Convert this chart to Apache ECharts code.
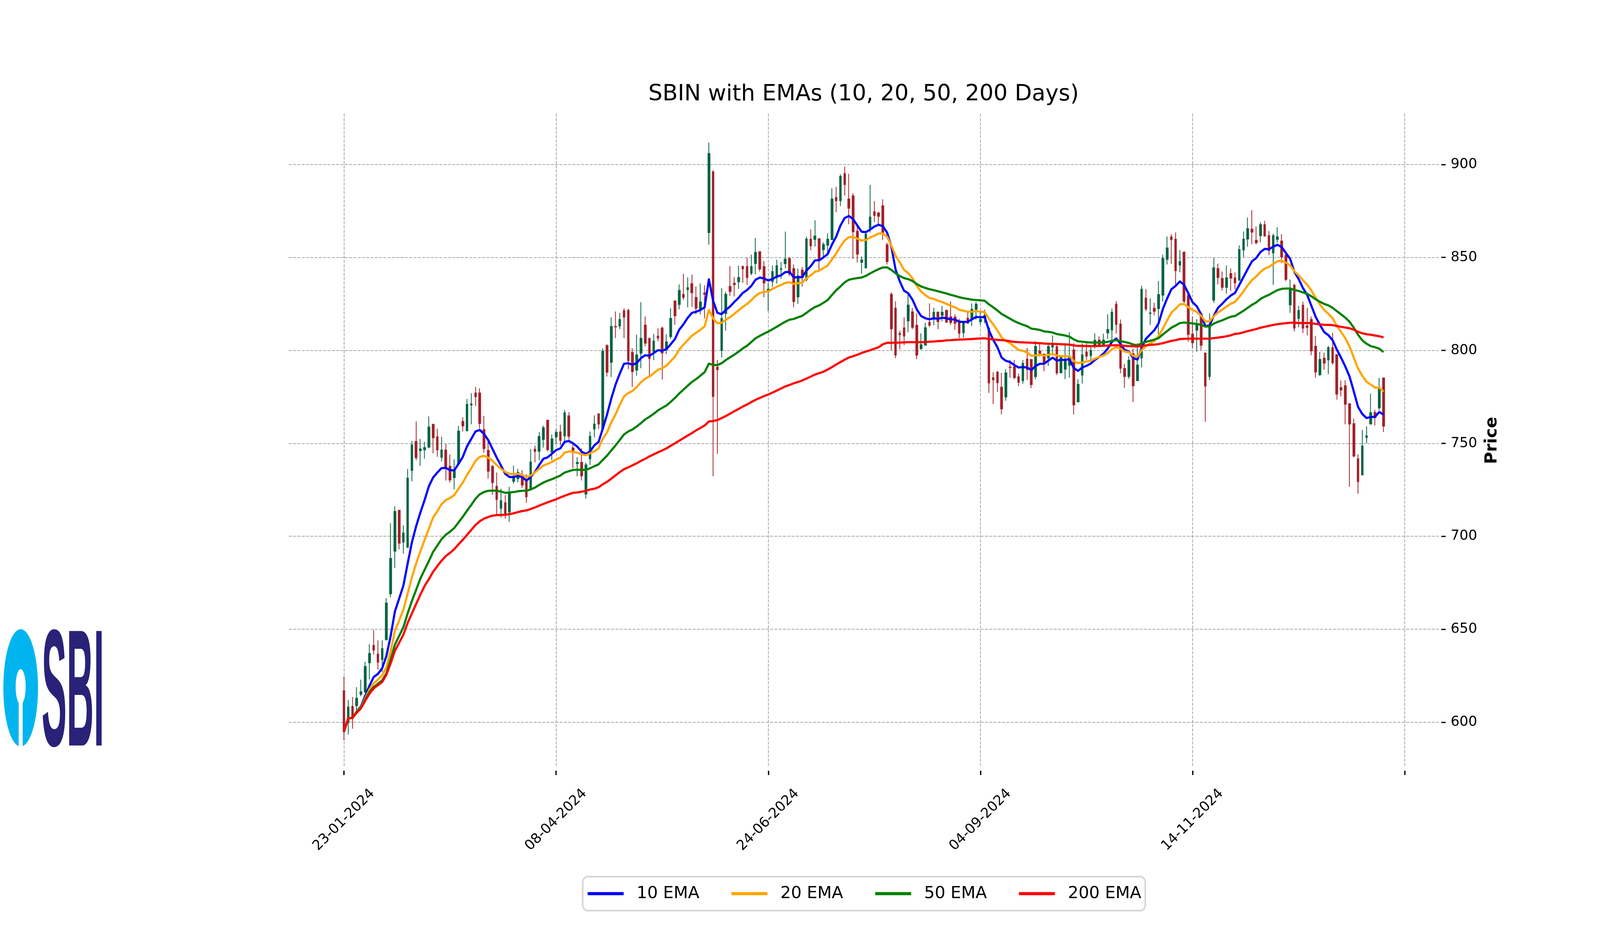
<!DOCTYPE html>
<html>
<head>
<meta charset="utf-8">
<title>SBIN with EMAs</title>
<script src="https://cdn.jsdelivr.net/npm/echarts@6/dist/echarts.min.js"></script>
<style>
html, body { margin: 0; padding: 0; background: #fff; overflow: hidden; }
#chart { width: 100vw; height: 100vh; }
</style>
</head>
<body>
<div id="chart"></div>
<script>
// values, one entry per trading day
var openPrices = [
616.9,600,608.5,608.9,615,616.2,632,641.3,636.6,633.7,
644.4,669.1,692,714,696.9,694,735.4,751,746.1,746.5,
748,760.3,753.5,742.5,746.4,737.6,731.6,739,761.8,756.8,
770.7,777.1,777.1,757.4,746.2,737.6,726.9,715.1,718,713.1,
729.6,731,732.3,730.3,725.6,746.8,745.7,752.1,762.5,745.3,
753.5,756.1,754,764.8,747.5,739.1,739.8,722.7,741.7,757.7,
765.9,758,802.6,793.6,812.9,813.1,821.3,821.5,798.9,789.4,
798.5,813.6,806.5,799.5,807.7,812,800.4,807.4,826.6,824.7,
830.2,832.7,835.9,828.5,821.8,830.9,863.4,896,791,800,
819.9,834.4,836.1,836.9,845.1,845.1,841.5,846.8,853.1,845.1,
832,837,839.2,843.6,846.7,849.4,844,828.8,843.2,838,
859.8,859.7,860.1,854.2,856.6,859.6,882.2,880.5,895.1,881.4,
883.1,864.1,847.4,844.4,865.8,874.6,873.9,877.8,856.8,830.1,
822.7,809.1,812.1,815.9,820.7,813.5,800.9,802.8,815.1,816.7,
820.5,818.9,821.5,818.1,817.9,816,809.5,817.3,817,822.1,
815.4,817.3,812,785.3,788.3,780.2,775,791,791.1,785.8,
783.7,795.3,795.1,785.9,799.6,798,795.9,801.8,802,787.9,
789.9,792,800.2,772.3,786.7,799.1,797.2,802.6,805.5,803,
809.4,811,824.8,814.2,790.3,786,798.2,783.7,795.9,828.1,
819.9,822.6,822.5,829.7,849,861.1,859.8,845.9,852.7,829.5,
808.8,810.9,819.5,798.6,786,827,844,838.7,833.9,841.3,
839,837.9,854,859.9,865.2,859.2,861.7,867.6,861.7,852.4,
859.7,858.8,851.3,824.5,835,817.2,824.3,813.1,816.6,802.2,
786.9,795.8,794.9,801.5,797.7,780,781,771.3,760.6,741.7,
733,753.2,760.4,766.6,769.1,785.2
];
var closePrices = [
594.8,608.2,602.1,612.9,616.4,630,637,638.8,632.3,639.6,
664.1,688.1,713.4,696.3,701.8,731.3,749.2,742.3,747,747.7,
758.8,753,746.5,746.4,737.2,730.3,735.6,756.6,759.4,771,
771.2,775.1,760.7,747.2,735,728.9,719.8,719.1,711.8,723.6,
732,734.3,727.6,721.3,740,745.7,753.7,758.4,746.6,752.4,
755.9,751.6,766.4,753.8,746.2,739.7,732.5,738.4,753.8,760.4,
760.4,799.5,788.3,812.9,812.6,816.6,817.9,794.5,788.6,797.6,
806.5,803.9,795.6,805,806.7,798.6,804.6,817.2,818.6,832.3,
828.5,833.7,831,822.7,826,830.2,905.9,775.2,789.6,817.2,
830.2,831.7,835.4,839.2,843.9,839.2,845.1,852.7,843.8,836.3,
832.9,842.4,845.5,843.9,849.1,841.3,826.3,840,839.3,859.9,
856.3,861.5,848.3,856.9,859.8,881.4,880.5,893.6,889.2,876.5,
863.8,851.8,848.6,862.5,871.7,872.6,872.1,863.4,847.8,811.6,
797.5,808.5,807.8,824.4,812.4,797.5,803,812.2,813.5,820.5,
815.5,820.5,815.3,815,814.6,809.2,815.3,814.6,822.1,824.8,
816.7,818.8,782.5,784.2,782.6,768.6,787.9,790.8,785.4,782.9,
793,789.7,781.6,802.1,798.2,793.5,802.1,803,787.9,796.9,
794.5,796.9,770.7,781.7,797.6,796.9,799.9,805.4,802.6,805.5,
811.2,820.5,814,790.4,786,794.7,781,792.1,832.9,822.3,
820.2,821.1,830,849.4,855.1,859.6,842.9,847.8,826.5,808.6,
804.1,813.8,802.8,780.8,813,844.4,839.2,833.9,839,838.9,
836.3,854.2,859.8,865.5,863.6,857.9,867.6,861.5,853.7,861.7,
861.1,850.3,838.2,833.1,812,821.5,812,812.4,799.8,788.4,
795.1,793.2,801.5,793.4,776.5,778.7,771.1,760.4,743.2,729.5,
748.5,754,766.5,763.9,779.3,759.3
];
var highPrices = [
624.6,612,613.6,618.9,622.9,632.5,642,649.6,644,644,
666.7,707,716.2,714,706,736.2,751.3,761.8,752.4,750.8,
764.5,760.3,757.8,753.6,749.6,744,741.4,759.4,764,773.9,
777,780.4,779.6,764.8,751,738.3,734.3,725.6,722.1,726.6,
738,736.3,735.6,733.4,747,748.8,756,759.6,762.5,754.8,
757.5,760,767.9,766.8,750,742.6,747.3,739.6,756.4,765,
765.9,801.1,803.3,817.8,821,820.2,822.6,822.4,801.2,808.4,
825.9,818.3,806.5,808.9,811.9,812.7,808.7,822.6,826.6,835.5,
841.2,839.3,840.8,834.4,836,835,911.8,897,794.9,833.5,
831.5,845.4,839.5,845.6,845.7,849.7,851.5,860.5,853.1,848.1,
836.3,845.7,848.8,847.5,863.9,850.2,846.2,844,844.9,861.2,
865,870,860.1,858.2,863,887.2,888,894.7,898.9,895,
884.5,866.6,850.5,863.1,889,880.3,874.6,881.3,858,831.2,
826.4,810.6,817.8,830,822.8,819.9,809.2,814.9,825.3,823,
821,823.9,822,826.4,819.4,817,816,820.7,825.3,826,
821,821.9,812,788.3,788.9,787.9,789.9,794.9,794.9,787.5,
794.8,801.4,795.1,805,803.8,798.2,803,808,803,797.3,
803.9,809.8,803.9,784.5,803.8,803.8,801.8,809.2,807.6,809,
819.5,822.5,826.5,816.6,792.7,796.9,801,803.9,834.8,833,
827.9,825.6,837.3,851.5,861.3,862.5,863.4,854,853.4,831.8,
818.1,816.8,819.9,798.6,819.9,849.6,846.6,842.4,845.7,844.1,
842,856.5,864,871.5,875.5,866.7,868.9,869.7,864.2,862.8,
866.3,862.6,851.3,838.1,835.9,824,826.2,822.9,818.3,807.9,
799.2,798.8,802.4,809.5,797.7,783.8,784,771.3,763.4,744.1,
757.2,759.1,776.7,768.1,785.2,785.2
];
var lowPrices = [
590.3,593.4,596.5,606.2,614,616,623,636.4,628.3,627,
644,667.2,682.9,693,690.7,693.8,729.6,740.9,737.9,741.7,
747.3,744.6,742.7,740.3,730,728.9,725.2,739,756.4,756.4,
760.2,770.1,758,745,731,722.2,711.5,710.1,709.5,707.9,
728.3,729,726,718,725,739.7,741,747.7,745.7,741,
749.5,749,751,752,736.6,732.3,730,720.3,738.4,753.2,
757.8,757.5,785.9,785.7,806.6,811.4,806.6,789.9,780.3,786.4,
790.4,802.2,786.4,794.7,804.9,784.3,798,806.3,813.8,822.1,
827.2,823.2,823.4,819.4,819.4,817.2,856.9,732.3,744.3,796.1,
810.6,829.3,829,833.1,836.3,835.2,840.4,841,842.5,828.6,
821.1,834.2,836,838.5,844.2,840,823.2,825,834.4,837.2,
853.8,855.9,843.2,849.4,852.6,859.6,874.3,877.6,883.2,867.9,
849.2,847.3,841.2,844,863.4,869,868,859.4,846.2,800.1,
795.8,800.6,802.8,809.8,811.4,795.3,800.4,802.8,812.6,813.5,
811.4,815.7,814.6,813.8,811.1,806.5,806.9,814.3,813,816.5,
813.7,814.6,777.1,771.1,777.6,765.6,772.9,785.3,784.5,780.7,
782.1,784.1,779.7,784.5,796.7,788.7,791.7,798.6,786.7,787.9,
784.5,785.3,765.6,772.3,782.2,794.9,794.9,801,801.8,802,
806.2,805.4,809,787.7,779.9,784.7,772.2,783.7,790.8,821.1,
813.7,818.9,808.6,826.3,846.2,846.6,835.1,842,825.5,804.7,
801.1,799.4,800.2,761.6,784.1,825.6,835.5,832.2,830.5,832,
832.9,837.2,850.2,855.8,857.1,857.1,858.1,861.2,851.2,835.2,
857.9,847,837.2,820.2,810.2,812.4,809.3,808.1,797.4,785.3,
786.3,789.6,787.2,792.3,773.5,775.2,760.2,726.6,742.4,722.9,
733,750,760.4,759.6,767.9,756.1
];
var ema10 = [
595,602.1,602.4,605.8,608.6,614.2,619.6,624.3,626,629,
635.7,646.4,659.6,666.5,673.5,685.3,696.7,705.4,712.8,719.5,
726.9,731.6,734.3,736.7,736.8,735.5,735.5,739,742.7,748.4,
752.4,756.4,757.2,755.1,751.7,747,742.3,738.1,733.6,731.9,
731.9,732.5,731.9,729.9,731.9,734.6,738.3,741.7,742.5,744.4,
746.4,747.3,750.8,751.3,750,748.2,745.5,744.3,745.7,748.9,
750.8,758,765.5,774.1,781.6,787.5,792.8,793.1,792.3,793.2,
795.9,797.4,797.1,798.6,800.1,799.8,800.7,803.3,806.1,811.1,
814,817.5,820.2,820.8,821.7,823.2,838.2,826.6,820.2,819.5,
821.8,823.6,826.1,828.3,830.9,832.5,834.7,838,839.2,838.7,
837.6,838.4,839.7,840.4,842.1,842.2,839.3,839.3,839.4,842.9,
845.3,848.4,848.5,850,851.8,856.9,861.2,867.1,871.2,872.3,
870.6,867.1,863.8,863.6,865,866.6,867.6,866.8,863.4,855.9,
843.5,837.1,832.1,830.7,827.2,822.1,818.5,817.3,816.7,817.3,
817,817.6,817.3,816.7,816.6,815.4,815.3,815.4,816.7,818,
817.8,818,810.8,805.7,801.7,796.1,794.4,793.7,792.1,790.8,
791,790.8,789.4,791.6,792.8,792.8,794.5,796.1,794.5,794.9,
794.9,795.3,790.5,789,790.8,791.7,792.9,794.9,796.5,798.2,
801,804.6,806.4,803.6,800.2,799.4,795.9,795.1,801.4,806.2,
808.6,810.9,814.6,822.3,827.9,832.9,834.7,837.1,835.3,830.7,
825.9,823.7,819.5,813,813.4,818.7,822.9,825.1,827.5,829.5,
830.9,835.2,839.5,843.8,847.9,849.7,852.9,854.6,854.4,855.8,
856.8,855.6,852.4,849.2,842.2,838.4,833.6,829.9,824,818.1,
813.8,809.9,808.2,805.5,800.4,796.1,791.3,785.9,777.9,769.6,
765.8,763.6,764.2,764.2,766.9,765.5
];
var ema20 = [
595,602.1,602.4,605.8,608.2,612.9,617.6,620.9,622.9,625.2,
629.6,638.4,649.1,654.7,660.5,669.2,677.9,685.3,692,698,
704.1,710.1,713.5,717.3,719.5,720.6,722.2,725.6,728.9,733,
736.6,740.6,742.7,743.3,742.3,740.7,738.3,736.3,734.6,733.6,
733.5,733.6,733,731.9,732.7,734.3,736.3,738.1,739,740,
741.3,742.3,745,745.7,745.4,745,744.1,743.6,744.6,745.7,
747.3,752.5,755.9,761.3,765.5,770.7,775.2,777.1,778.2,780.3,
782.9,784.8,785.9,787.7,789.6,790.4,791.8,794.2,796.6,800.4,
803.1,805.5,807.9,809.5,811.1,812.9,821.7,817.2,814.6,814.9,
816.5,817.9,819.7,821.5,823.4,825,827,829.3,830.9,831.5,
831.7,833.1,834.2,835.2,836.3,836.7,835.7,836.1,836.5,838.7,
840.4,842.3,842.9,844.3,845.7,848.9,852.1,855.9,859.1,860.9,
861.1,860.1,859.1,859.4,860.7,861.7,862.9,862.9,861.2,856.4,
851,847.3,843.3,841.6,838.7,834.7,831.7,829.8,828.2,827.7,
826.7,826,825,824,823.2,821.9,821.3,820.8,820.8,821.2,
820.8,820.6,817,814,810.8,806.9,805.1,803.9,802,800.3,
799.8,798.8,797.1,797.3,797.7,797.2,797.6,798.1,797.3,796.9,
796.8,796.8,794.3,793.1,793.6,794,794.5,795.6,796.5,797.2,
798.6,800.6,801.8,800.8,799.4,799,797.1,796.7,800.2,802.2,
803.8,805,807.8,811.8,816.2,820.3,822.4,824.8,824.9,823.2,
821.8,820.7,818.7,815.6,815.6,818.4,820.4,821.9,823.5,825.1,
826.1,828.8,831.7,835,837.8,839.7,842.2,844,844.9,846.5,
848,848.2,847.2,845.7,842.5,840.3,837.8,835.4,832.2,828.3,
824.8,821.8,819.7,817.3,813.2,810,806.6,802,796.1,790.2,
786.4,783.1,781.6,780,780,777.8
];
var ema50 = [
595,602,602.4,605.6,607.9,612.2,616.2,618.9,620.7,622.5,
626.3,633.7,641.7,646.4,651.1,658.5,665.2,671.2,677.3,682,
686.7,691.6,695,698.5,700.8,702.5,704.5,707.5,710.5,713.8,
716.9,720.2,722.6,723.8,724.5,724.6,724.5,724.1,723.4,723.6,
723.8,724.2,724.5,724.5,725.2,726.2,727.6,728.9,729.9,730.7,
731.7,732.7,734.3,735,735.7,735.8,735.8,735.7,736.6,737.7,
738.7,741.1,743.4,746.2,748.9,751.8,754.8,756.4,757.5,759.1,
760.9,762.9,764.3,765.9,767.7,769.1,770.4,772.3,774.4,776.8,
778.9,781,783,784.6,786.4,788.3,792.9,792.2,792.1,793.1,
794.8,796.3,797.7,799.3,801.1,802.5,804.5,806.5,807.8,809,
810.1,811.4,812.7,814.1,815.4,816.5,816.9,817.8,818.6,820.2,
821.9,823.3,824.2,825.6,827.1,829.8,832.3,834.4,836.6,838,
838.5,838.9,839.2,840.1,841.4,842.6,843.7,844.6,844.7,843.3,
841.5,840,838.9,838.3,837.3,835.7,834.4,833.6,832.9,832.4,
831.8,831.2,830.6,829.9,829.3,828.6,828.1,827.7,827.3,827.1,
826.9,826.7,824.8,823.2,821.5,819.6,818.3,817,815.7,814.7,
813.8,813,811.7,811.4,811,810.2,810,809.6,808.8,808.4,
808,807.4,805.9,804.9,804.7,804.4,804.2,804.2,804.2,804.3,
804.6,805.1,805.5,805,804.5,804,803.2,802.7,803.8,804.6,
805.2,805.8,806.6,808.6,810.4,812.2,813.4,814.7,815,814.8,
814.5,814.2,813.8,812.8,812.9,814.4,815.4,816.2,817.2,818.1,
818.5,819.9,821.3,822.9,824.5,825.8,827.7,828.9,829.9,831.2,
832.4,833.1,833.3,833.3,832.5,832,831.2,830.4,829.1,827.5,
826.2,825,824.2,822.9,821.1,819.4,817.6,815.4,812.2,808.4,
805.4,803.6,802.3,801.7,800.9,799.1
];
var ema200 = [
595,602,602.3,605.1,607.5,611.5,615.3,618.2,619.9,621.6,
625.6,631.7,638.4,642.7,647.1,653.4,658.5,663.6,668.6,673.3,
676.9,680.9,684,686.9,689.4,691.1,693.1,695.7,698.1,700.8,
703.4,706.1,708.1,709.5,710.4,711.1,711.4,711.5,711.6,711.9,
712.4,713,713.6,713.9,714.7,715.5,716.5,717.4,718.3,719.1,
719.9,720.9,721.8,722.6,723.4,723.6,724,724.4,725.2,725.6,
726.4,728,729.3,731,732.8,734.5,736.1,737.1,738.2,739.3,
740.6,741.7,743,744.1,745.2,746.2,747.3,748.7,750,751.4,
752.8,754.2,755.5,757,758.3,759.6,761.8,762,762.5,763.6,
764.7,766,767.3,768.5,769.8,770.9,772.2,773.4,774.4,775.4,
776.3,777.3,778.4,779.5,780.6,781.4,782.3,783,783.8,784.8,
785.9,787,787.8,788.5,789.7,791,792.4,793.7,795,796.2,
796.9,797.7,798.6,799.4,800.1,800.9,801.7,803.3,804.1,804.1,
804.1,804.2,804.3,804.4,804.4,804.4,804.4,804.5,804.7,804.8,
805,805.1,805.4,805.5,805.7,805.8,805.9,806,806.1,806.3,
806.4,806.5,806.1,805.9,805.7,805.5,805.3,804.9,804.6,804.4,
804.3,804.2,804.1,804,803.9,803.7,803.6,803.5,803.4,803.3,
803.2,803.1,802.7,802.4,802.4,802.3,802.3,802.3,802.4,802.5,
802.6,802.7,802.8,802.7,802.5,802.3,802.2,802.1,802.4,802.7,
803,803.1,803.4,803.9,804.5,805.1,805.5,806.1,806.2,806.3,
806.3,806.3,806.3,806.3,806.3,806.6,806.9,807.2,807.6,808.1,
808.9,809.1,809.7,810.4,810.9,811.5,812.2,812.7,813.2,813.7,
814.1,814.4,814.6,814.9,814.9,814.7,814.7,814.7,814.6,814.3,
814,813.8,813.7,813.6,813.1,812.7,812.3,811.9,811.1,810,
809.2,808.7,808.4,808,807.6,807
];
var tickLabels = ['23-01-2024', '08-04-2024', '24-06-2024', '04-09-2024', '14-11-2024', ''];
var priceTicks = [600, 650, 700, 750, 800, 850, 900];
var emaNames = ['10 EMA', '20 EMA', '50 EMA', '200 EMA'];
var emaColors = ['#0000ff', '#ffa500', '#008000', '#ff0000'];

var fontName = 'DejaVu Sans';
var padDays = 13;      // empty days either side of the candles
var tickStep = 50;

// the layout is measured on a 4800 wide picture, the browser may be narrower
var sx = window.innerWidth / 4800;

var categories = [];
var totalDays = openPrices.length + padDays * 2;
for (var i = 0; i < totalDays; i++) {
    var k = i - padDays;
    categories.push(k % tickStep === 0 && k >= 0 && tickLabels[k / tickStep] ? tickLabels[k / tickStep] : '');
}

function isTick(index) {
    var k = index - padDays;
    return k >= 0 && k % tickStep === 0;
}

function pad(list) {
    var out = [];
    for (var i = 0; i < padDays; i++) out.push('-');
    out = out.concat(list);
    for (var j = 0; j < padDays; j++) out.push('-');
    return out;
}

var candles = pad(openPrices.map(function (o, i) {
    return [o, closePrices[i], lowPrices[i], highPrices[i]];
}));

var series = [{
    type: 'candlestick',
    data: candles,
    barWidth: 6 * sx,
    clip: false,
    itemStyle: {
        color: '#006340',
        color0: '#a02128',
        borderColor: '#006340',
        borderColor0: '#a02128',
        borderWidth: 2
    },
    silent: true
}];
[ema10, ema20, ema50, ema200].forEach(function (list, i) {
    series.push({
        name: emaNames[i],
        type: 'line',
        data: pad(list),
        symbol: 'none',
        showSymbol: false,
        smooth: false,
        clip: false,
        color: emaColors[i],
        itemStyle: { color: emaColors[i] },
        lineStyle: { color: emaColors[i], width: 5.5, join: 'round' },
        silent: true
    });
});

var chart = echarts.init(document.getElementById('chart'));
chart.setOption({
    animation: false,
    backgroundColor: '#ffffff',
    textStyle: { fontFamily: fontName, color: '#000' },
    title: {
        text: 'SBIN with EMAs (10, 20, 50, 200 Days)',
        left: 2585 * sx,
        top: 209,
        textAlign: 'center',
        textStyle: { fontFamily: fontName, fontSize: 66.7 * sx, fontWeight: 'normal', color: '#000' }
    },
    legend: {
        data: emaNames,
        left: 1748 * sx,
        top: 2243,
        padding: [21, 12 * sx, 21, 15 * sx],
        selectedMode: false,
        icon: 'rect',
        itemWidth: 108 * sx,
        itemHeight: 8,
        itemGap: 96 * sx,
        backgroundColor: '#ffffff',
        borderColor: '#d5d5d5',
        borderWidth: 4,
        borderRadius: 14,
        textStyle: { fontFamily: fontName, fontSize: 50 * sx, lineHeight: 45, color: '#000', padding: [0, 0, 0, 33 * sx] }
    },
    grid: { left: 866.5 * sx, top: 291, width: 3449.5 * sx, height: 1672 },
    xAxis: {
        type: 'category',
        data: categories,
        boundaryGap: false,
        offset: 9,
        axisLine: { show: false },
        axisTick: { show: true, length: 11, interval: isTick, lineStyle: { color: '#000', width: 3.3 } },
        axisLabel: {
            interval: isTick,
            rotate: 45,
            align: 'center',
            verticalAlign: 'middle',
            margin: 126,
            fontFamily: fontName,
            fontSize: 41.67 * sx,
            color: '#000',
            hideOverlap: false
        },
        splitLine: { show: true, interval: isTick, lineStyle: { color: '#a8a8a8', width: 2, type: [7.7, 3.3] } }
    },
    yAxis: {
        type: 'value',
        position: 'right',
        min: 575.8,
        max: 927.3,
        offset: 8 * sx,
        name: 'Price',
        nameLocation: 'middle',
        nameRotate: 90,
        nameGap: 109,
        nameTextStyle: { fontFamily: fontName, fontSize: 50 * sx, fontWeight: 'bold', color: '#000' },
        axisLine: { show: false },
        axisTick: { show: true, length: 13 * sx, customValues: priceTicks, lineStyle: { color: '#000', width: 3.3 } },
        axisLabel: { customValues: priceTicks, margin: 28 * sx, fontFamily: fontName, fontSize: 41.67 * sx, color: '#000' },
        splitLine: { show: true, lineStyle: { color: '#a8a8a8', width: 2, type: [7.7, 3.3] } }
    },
    // SBI logo, bottom left
    graphic: [
        { type: 'ellipse', shape: { cx: 62 * sx, cy: 1760, rx: 52 * sx, ry: 150 }, style: { fill: '#00b5ef' }, silent: true },
        { type: 'ellipse', shape: { cx: 62 * sx, cy: 1757, rx: 15 * sx, ry: 45 }, style: { fill: '#ffffff' }, silent: true },
        { type: 'rect', shape: { x: 56 * sx, y: 1790, width: 12 * sx, height: 122 }, style: { fill: '#ffffff' }, silent: true },
        {
            type: 'text', x: 125 * sx, y: 1790, scaleX: 0.264 * sx, silent: true,
            style: {
                text: 'SBI', fill: '#2a2278', font: 'bold 426px "Liberation Sans"',
                textAlign: 'left', textVerticalAlign: 'middle'
            }
        }
    ],
    series: series
});
</script>
</body>
</html>
